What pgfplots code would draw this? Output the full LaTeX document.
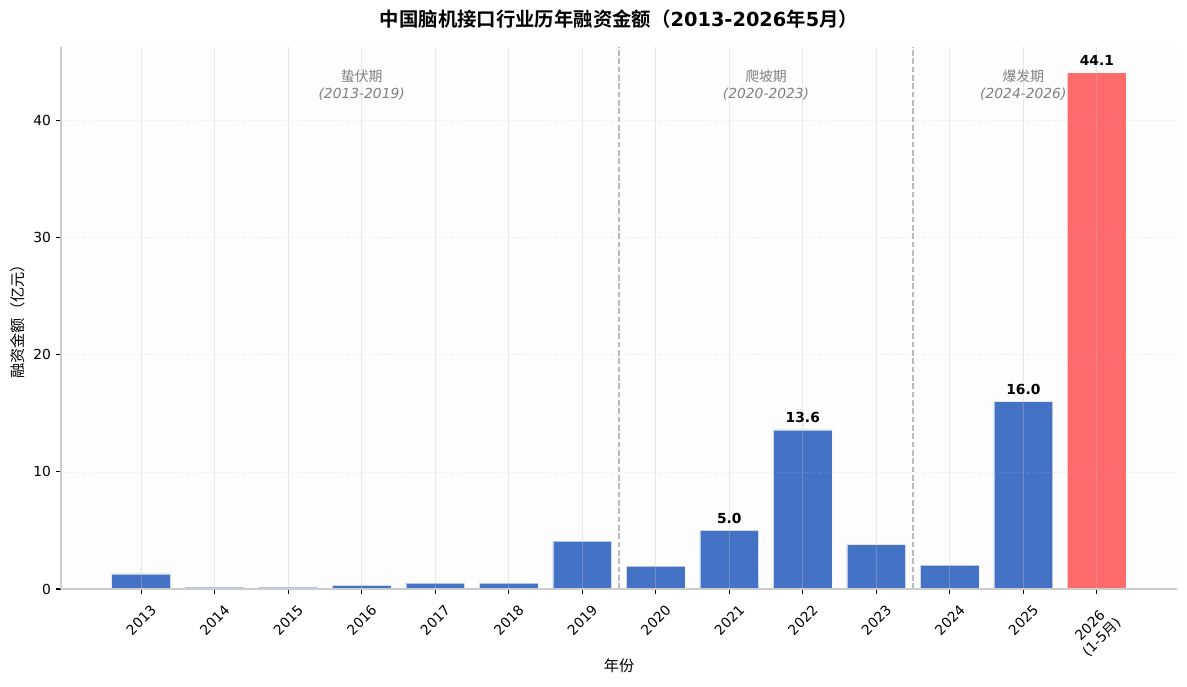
\documentclass[border=0pt]{standalone}
\usepackage{pgfplots}
\pgfplotsset{compat=1.18}
\usepackage{fontspec}
\setmainfont{DejaVu Sans}
\newfontfamily\cjk{Noto Sans CJK SC}[BoldFont={Noto Sans CJK SC Bold}]
\definecolor{barblue}{HTML}{4472C4}
\definecolor{barred}{HTML}{FF6B6B}
\definecolor{spine}{HTML}{CCCCCC}
\definecolor{sep}{HTML}{BBBBBB}
\definecolor{anno}{HTML}{808080}
\newcommand{\rl}[1]{\rotatebox{45}{#1}}
\begin{document}
\begin{tikzpicture}
\begin{axis}[
  scale only axis,
  width=803.52bp, height=390.24bp,
  xmin=-1.09, xmax=14.09, ymin=0, ymax=46.3,
  axis lines*=left,
  axis line style={spine, line width=0.8bp, -},
  axis on top,
  bar width=0.8,
  xtick={0,...,13},
  xticklabels={\rl{2013},\rl{2014},\rl{2015},\rl{2016},\rl{2017},\rl{2018},\rl{2019},\rl{2020},\rl{2021},\rl{2022},\rl{2023},\rl{2024},\rl{2025},\rl{\begin{tabular}{@{}c@{}}2026\\[0pt](1-5{\cjk 月})\end{tabular}}},
  ytick={0,10,20,30,40},
  tick align=outside,
  major tick length=3.5bp,
  tick style={black, line width=0.8bp},
  xticklabel style={font=\fontsize{10}{12}\selectfont, anchor=north, inner sep=0pt, yshift=-7bp},
  yticklabel style={font=\fontsize{10}{12}\selectfont, inner sep=0pt, xshift=-3.5bp},
  /pgf/number format/assume math mode=true,
  xmajorgrids, ymajorgrids,
  x grid style={color=black!25, opacity=0.35, line width=0.6bp},
  y grid style={color=black!25, opacity=0.2, line width=0.6bp, dash pattern=on 3bp off 2bp},
  axis background/.style={fill=black!0.6},
  xlabel={\cjk 年份},
  xlabel style={font=\fontsize{11}{13}\selectfont, at={(axis description cs:0.5,0)}, anchor=center, yshift=-55.4bp},
  ylabel={\cjk 融资金额（亿元）},
  ylabel style={font=\fontsize{11}{13}\selectfont, at={(axis description cs:0,0.5)}, anchor=center, rotate=0, yshift=31bp},
  clip=false,
]
\addplot[ybar, bar shift=0pt, fill=barblue, draw=white, draw opacity=0.6, line width=0.4bp] coordinates {
  (0,1.3) (1,0.15) (2,0.15) (3,0.3) (4,0.5) (5,0.5) (6,4.1)
  (7,1.95) (8,5.0) (9,13.6) (10,3.8) (11,2.05) (12,16.0)
};
\addplot[ybar, bar shift=0pt, fill=barred, draw=white, draw opacity=0.6, line width=0.4bp] coordinates {(13,44.1)};
\addplot[ybar, bar shift=0pt, draw=none, fill=none, mark=none, forget plot,
  nodes near coords,
  nodes near coords style={font=\fontsize{10}{12}\selectfont\bfseries, inner sep=0pt, anchor=south, yshift=5bp},
  /pgf/number format/.cd, fixed, zerofill, precision=1] coordinates {
  (8,5.0) (9,13.6) (12,16.0) (13,44.1)
};
\addplot[sep, line width=1.1bp, dash pattern=on 4bp off 2bp, sharp plot, mark=none] coordinates {(6.5,0) (6.5,46.3)};
\addplot[sep, line width=1.1bp, dash pattern=on 4bp off 2bp, sharp plot, mark=none] coordinates {(10.5,0) (10.5,46.3)};
\node[anno, align=center, font=\fontsize{10}{12.2}\selectfont] at (axis cs:3,43.05) {{\cjk 蛰伏期}\\\textit{(2013-2019)}};
\node[anno, align=center, font=\fontsize{10}{12.2}\selectfont] at (axis cs:8.5,43.05) {{\cjk 爬坡期}\\\textit{(2020-2023)}};
\node[anno, align=center, font=\fontsize{10}{12.2}\selectfont] at (axis cs:12,43.05) {{\cjk 爆发期}\\\textit{(2024-2026)}};
\end{axis}
\node[font=\fontsize{14}{17}\selectfont\bfseries, anchor=center] at (401.76bp,410.4bp) {{\cjk 中国脑机接口行业历年融资金额（}2013-2026{\cjk 年}5{\cjk 月）}};
\pgfresetboundingbox
\path (-43.92bp,-70.56bp) rectangle (810.72bp,424.08bp);
\end{tikzpicture}
\end{document}
